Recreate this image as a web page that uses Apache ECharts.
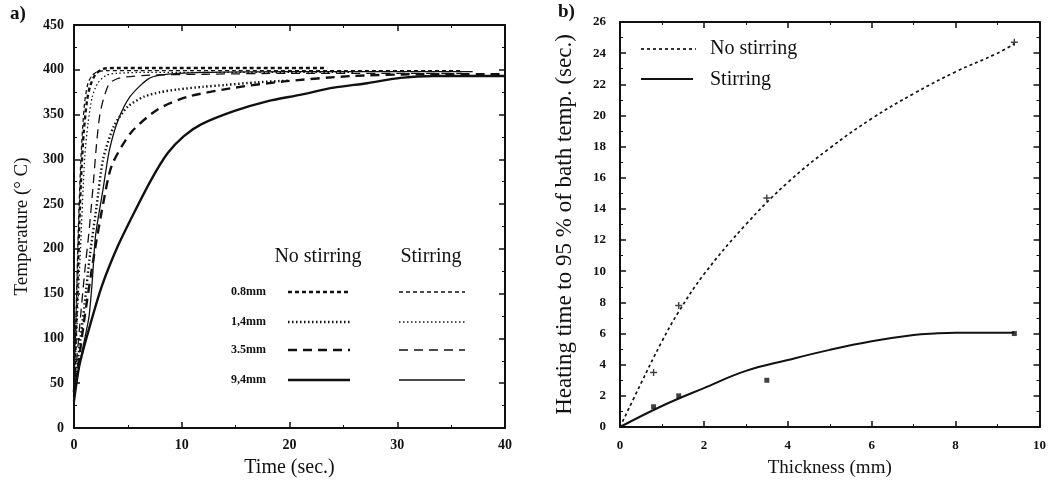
<!DOCTYPE html>
<html>
<head>
<meta charset="utf-8">
<script src="https://cdn.jsdelivr.net/npm/echarts@6/dist/echarts.min.js"></script>
<style>html,body{margin:0;padding:0;background:#fff}#c{width:1049px;height:483px}</style>
</head>
<body>
<div id="c"></div>
<script>
// ---------- Panel a: temperature vs time ----------
const ns08T = [0, 0.3, 0.5, 0.7, 0.9, 1.2, 1.5, 2.0, 2.7, 4, 8, 15, 23.5];
const ns08Y = [40, 150, 230, 290, 330, 365, 382, 395, 401, 402, 402, 402, 402];
const st08T = [0, 0.2, 0.4, 0.6, 0.8, 1.0, 1.3, 1.7, 2.2, 3, 6, 15, 25, 36];
const st08Y = [45, 130, 220, 290, 335, 365, 385, 394, 398, 399, 399, 399, 399, 399];
const ns14T = [0, 0.5, 1, 1.5, 2.1, 2.7, 3.7, 5, 6.5, 8, 9.6, 12, 14, 17, 20];
const ns14Y = [40, 90, 140, 195, 248, 300, 337, 359, 370, 375, 378, 381, 383, 386, 388];
const st14T = [0, 0.3, 0.6, 1.0, 1.3, 1.7, 2.2, 3.0, 4, 6, 10, 15, 20, 26];
const st14Y = [40, 120, 200, 303, 340, 370, 385, 394, 396, 397, 397, 397, 397, 397];
const ns35T = [0, 0.5, 1, 1.9, 2.7, 3.5, 5.3, 7.8, 10.6, 14.9, 19.5, 25.7, 32, 40];
const ns35Y = [35, 80, 125, 196, 250, 293, 330, 356, 370, 380, 387, 393, 395, 395];
const st35T = [0, 0.5, 1.0, 1.4, 1.75, 2.1, 2.4, 2.8, 3.3, 4, 4.8, 7, 12, 20, 30, 36];
const st35Y = [40, 110, 175, 220, 267, 318, 350, 370, 385, 390, 392, 394, 395, 396, 396, 396];
const ns94T = [0, 0.5, 1.4, 2.6, 4.1, 5.6, 7.2, 8.7, 10.2, 11.8, 14.9, 18, 21, 24.1, 27.2, 30.3, 33.4, 40];
const ns94Y = [30, 70, 111, 159, 204, 241, 278, 307, 326, 339, 354, 365, 372, 380, 385, 391, 393, 393];
const st94T = [0, 0.5, 1.0, 1.4, 1.7, 2.0, 2.7, 3.3, 4.1, 5.2, 6.8, 8, 12, 20, 30, 37];
const st94Y = [35, 70, 100, 125, 165, 215, 267, 311, 344, 370, 389, 394, 397, 398, 398, 398];
const sizeLabels = ['0.8mm', '1,4mm', '3.5mm', '9,4mm'];

// ---------- Panel b: heating time vs thickness ----------
const thickness = [0.8, 1.4, 3.5, 9.4];
const noStirPts = [3.5, 7.8, 14.7, 24.7];
const stirPts = [1.3, 2.0, 3.0, 6.0];
const noStirFitX = [0, 0.5, 1, 1.4, 2, 3, 4, 5, 6, 7, 8, 9, 9.4];
const noStirFitY = [0, 2.8, 5.5, 7.4, 9.8, 13.0, 15.7, 17.9, 19.8, 21.4, 22.8, 24.0, 24.6];
const stirFitX = [0, 1, 2, 3, 4, 5, 6, 7, 7.5, 8, 9, 9.4];
const stirFitY = [0, 1.35, 2.5, 3.6, 4.3, 4.95, 5.5, 5.9, 6.0, 6.05, 6.05, 6.05];

const zip = (a, b) => a.map((v, i) => [v, b[i]]);
const FONT = 'Liberation Serif';
const INK = '#111';

const dashes = { '0.8': [4, 3], '1.4': [1.5, 2.5], '3.5': [9, 6], '9.4': 'solid' };
function curve(name, t, y, key, thick) {
  return {
    name, type: 'line', xAxisIndex: 0, yAxisIndex: 0, data: zip(t, y),
    symbol: 'none', smooth: 0.25, silent: true,
    lineStyle: { color: INK, width: thick ? 2.4 : 1.3, type: dashes[key] }
  };
}

function mainAxis(min, max, interval, pos, gridIndex, labels, minorSplit) {
  return {
    type: 'value', gridIndex, position: pos, min, max, interval,
    axisLine: { show: true, onZero: false, lineStyle: { color: INK, width: 2 } },
    axisTick: { show: true, inside: true, length: 6, lineStyle: { color: INK, width: 1.5 } },
    minorTick: { show: !!minorSplit, splitNumber: minorSplit || 5, length: 3, lineStyle: { color: INK } },
    splitLine: { show: false },
    axisLabel: labels ? Object.assign({ color: INK, fontFamily: FONT, fontSize: 13, fontWeight: 'bold' }, labels) : { show: false }
  };
}

const option = {
  animation: false,
  backgroundColor: '#fff',
  grid: [
    { left: 74, right: 544, top: 25, bottom: 53 },
    { left: 620, right: 6, top: 22, bottom: 55 }
  ],
  xAxis: [
    Object.assign(mainAxis(0, 40, 10, 'bottom', 0, { margin: 10, fontSize: 14 }, 2), {
      name: 'Time (sec.)', nameLocation: 'middle', nameGap: 30,
      nameTextStyle: { fontFamily: FONT, fontSize: 20, color: INK }
    }),
    mainAxis(0, 40, 10, 'top', 0, null, 2),
    Object.assign(mainAxis(0, 10, 2, 'bottom', 1, { margin: 12 }, 2), {
      name: 'Thickness (mm)', nameLocation: 'middle', nameGap: 32,
      nameTextStyle: { fontFamily: FONT, fontSize: 19, color: INK }
    }),
    mainAxis(0, 10, 2, 'top', 1, null, 2)
  ],
  yAxis: [
    Object.assign(mainAxis(0, 450, 50, 'left', 0, { margin: 10, fontSize: 14 }, 2), {
      name: 'Temperature (° C)', nameLocation: 'middle', nameGap: 42,
      nameTextStyle: { fontFamily: FONT, fontSize: 19, color: INK }
    }),
    mainAxis(0, 450, 50, 'right', 0, null, 2),
    Object.assign(mainAxis(0, 26, 2, 'left', 1, { margin: 14 }, 2), {
      name: 'Heating time to 95 % of bath temp. (sec.)', nameLocation: 'middle', nameGap: 44,
      nameTextStyle: { fontFamily: FONT, fontSize: 23, color: INK }
    }),
    mainAxis(0, 26, 2, 'right', 1, null, 2)
  ],
  series: [
    curve('NS 0.8', ns08T, ns08Y, '0.8', true),
    curve('S 0.8', st08T, st08Y, '0.8', false),
    curve('NS 1.4', ns14T, ns14Y, '1.4', true),
    curve('S 1.4', st14T, st14Y, '1.4', false),
    curve('NS 3.5', ns35T, ns35Y, '3.5', true),
    curve('S 3.5', st35T, st35Y, '3.5', false),
    curve('NS 9.4', ns94T, ns94Y, '9.4', true),
    curve('S 9.4', st94T, st94Y, '9.4', false),
    {
      name: 'No stirring', type: 'line', xAxisIndex: 2, yAxisIndex: 2,
      data: zip(noStirFitX, noStirFitY), symbol: 'none', smooth: 0.4, silent: true,
      lineStyle: { color: INK, width: 1.7, type: [3, 3] }
    },
    {
      name: 'Stirring', type: 'line', xAxisIndex: 2, yAxisIndex: 2,
      data: zip(stirFitX, stirFitY), symbol: 'none', smooth: 0.4, silent: true,
      lineStyle: { color: INK, width: 2 }
    },
    {
      name: 'No stirring data', type: 'scatter', xAxisIndex: 2, yAxisIndex: 2,
      data: zip(thickness, noStirPts), symbol: 'path://M4,0L6,0L6,4L10,4L10,6L6,6L6,10L4,10L4,6L0,6L0,4L4,4Z',
      symbolSize: 7, itemStyle: { color: INK }, silent: true
    },
    {
      name: 'Stirring data', type: 'scatter', xAxisIndex: 2, yAxisIndex: 2,
      data: zip(thickness, stirPts), symbol: 'rect', symbolSize: 5,
      itemStyle: { color: INK }, silent: true
    }
  ],
  graphic: []
};

const g = option.graphic;
// panel labels
g.push({ type: 'text', left: 10, top: 5, style: { text: 'a)', fontFamily: FONT, fontSize: 19, fontWeight: 'bold', fill: INK } });
g.push({ type: 'text', left: 558, top: 3, style: { text: 'b)', fontFamily: FONT, fontSize: 19, fontWeight: 'bold', fill: INK } });

// panel b legend
g.push({ type: 'line', shape: { x1: 641, y1: 49, x2: 696, y2: 49 }, style: { stroke: INK, lineWidth: 1.7, lineDash: [3, 3] } });
g.push({ type: 'line', shape: { x1: 641, y1: 79, x2: 693, y2: 79 }, style: { stroke: INK, lineWidth: 2 } });
g.push({ type: 'text', x: 710, y: 49, style: { text: 'No stirring', fontFamily: FONT, fontSize: 20, fill: INK, verticalAlign: 'middle' } });
g.push({ type: 'text', x: 710, y: 80, style: { text: 'Stirring', fontFamily: FONT, fontSize: 20, fill: INK, verticalAlign: 'middle' } });

// panel a legend table
g.push({ type: 'text', x: 318, y: 257, style: { text: 'No stirring', fontFamily: FONT, fontSize: 20, fill: INK, align: 'center', verticalAlign: 'middle' } });
g.push({ type: 'text', x: 431, y: 257, style: { text: 'Stirring', fontFamily: FONT, fontSize: 20, fill: INK, align: 'center', verticalAlign: 'middle' } });
const rowY = [292, 322, 350, 380];
const keys = ['0.8', '1.4', '3.5', '9.4'];
rowY.forEach((yy, i) => {
  const d = dashes[keys[i]] === 'solid' ? null : dashes[keys[i]];
  g.push({ type: 'text', x: 266, y: yy, style: { text: sizeLabels[i], fontFamily: FONT, fontSize: 12, fontWeight: 'bold', fill: INK, align: 'right', verticalAlign: 'middle' } });
  g.push({ type: 'line', shape: { x1: 288, y1: yy, x2: 350, y2: yy }, style: { stroke: INK, lineWidth: 2.4, lineDash: d } });
  g.push({ type: 'line', shape: { x1: 399, y1: yy, x2: 465, y2: yy }, style: { stroke: INK, lineWidth: 1.3, lineDash: d } });
});

const chart = echarts.init(document.getElementById('c'));
chart.setOption(option);
</script>
</body>
</html>
